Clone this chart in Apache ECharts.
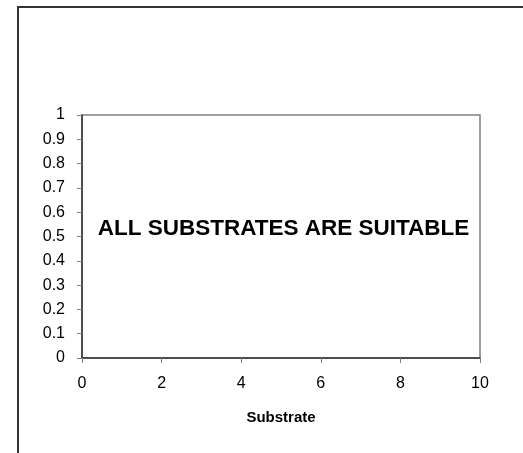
<!DOCTYPE html>
<html>
<head>
<meta charset="utf-8">
<script src="https://cdn.jsdelivr.net/npm/echarts@6/dist/echarts.min.js"></script>
<style>
html,body{margin:0;padding:0;background:#fff;}
#chart{width:523px;height:453px;}
</style>
</head>
<body>
<div id="chart"></div>
<script>
// Data
const xRange = [0, 10];
const xStep = 2;
const yRange = [0, 1];
const yStep = 0.1;
const xAxisTitle = 'Substrate';
const annotation = 'ALL SUBSTRATES ARE SUITABLE';
const seriesPoints = []; // no plotted values

const chart = echarts.init(document.getElementById('chart'));
const font = '"Liberation Sans", Arial, sans-serif';
chart.setOption({
  animation: false,
  backgroundColor: '#fff',
  grid: {
    left: 82, right: 43, top: 115, bottom: 95,
    show: true, borderColor: '#808080', borderWidth: 1.5, backgroundColor: 'transparent'
  },
  xAxis: {
    type: 'value', min: xRange[0], max: xRange[1], interval: xStep,
    name: xAxisTitle, nameLocation: 'middle', nameGap: 52,
    nameTextStyle: {fontFamily: font, fontSize: 15, fontWeight: 'bold', color: '#000'},
    axisLine: {show: true, onZero: false, lineStyle: {color: '#333', width: 1.5}},
    axisTick: {show: true, inside: false, length: 5, lineStyle: {color: '#808080', width: 1}},
    axisLabel: {fontFamily: font, fontSize: 16, color: '#000', margin: 18},
    splitLine: {show: false}
  },
  yAxis: {
    type: 'value', min: yRange[0], max: yRange[1], interval: yStep,
    axisLine: {show: true, onZero: false, lineStyle: {color: '#333', width: 1.5}},
    axisTick: {show: true, inside: false, length: 5, lineStyle: {color: '#808080', width: 1}},
    axisLabel: {fontFamily: font, fontSize: 16, color: '#000', margin: 17,
      formatter: v => String(Math.round(v * 10) / 10)},
    splitLine: {show: false}
  },
  graphic: [
    {type: 'rect', shape: {x: 18, y: 7, width: 520, height: 470},
     style: {fill: 'none', stroke: '#333', lineWidth: 2}, silent: true, z: 100},
    {type: 'text', x: 283.5, y: 229,
     style: {text: annotation, fontFamily: font, fontSize: 22.5, fontWeight: 'bold', fill: '#000',
       textAlign: 'center', textVerticalAlign: 'middle', align: 'center', verticalAlign: 'middle'}, z: 100}
  ],
  series: [{type: 'scatter', data: seriesPoints}]
});
</script>
</body>
</html>
